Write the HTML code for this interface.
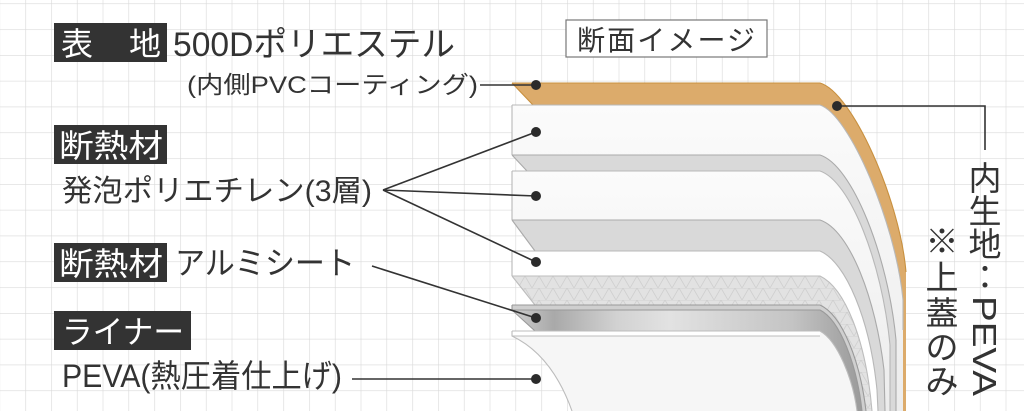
<!DOCTYPE html>
<html><head><meta charset="utf-8"><style>
html,body{margin:0;padding:0;background:#fff}
body{width:1024px;height:411px;overflow:hidden;position:relative}
svg{position:absolute;left:0;top:0}
text{font-family:"Liberation Sans","Noto Sans CJK JP",sans-serif;fill:#333}
</style></head><body>
<svg width="1024" height="411" viewBox="0 0 1024 411" xmlns="http://www.w3.org/2000/svg">
<defs>
<pattern id="grid" x="25.3" y="3.4" width="25.8" height="25.8" patternUnits="userSpaceOnUse">
<path d="M0 0 H25.8 M0 0 V25.8" stroke="#d9d9d9" stroke-width="1.2" fill="none"/>
</pattern>
<pattern id="tri" x="0" y="0" width="14" height="12" patternUnits="userSpaceOnUse">
<rect width="14" height="12" fill="#e2e2e2"/>
<path d="M0 12 L7 0 L14 12 M0 0 H14" stroke="#cfcfcf" stroke-width="0.8" fill="none"/>
</pattern>
<linearGradient id="alu" x1="0" x2="1" y1="0" y2="0">
<stop offset="0" stop-color="#cfcfcf"/><stop offset="0.12" stop-color="#a9a9a9"/><stop offset="0.3" stop-color="#d2d2d2"/><stop offset="0.45" stop-color="#e2e2e2"/><stop offset="0.8" stop-color="#c4c4c4"/><stop offset="1" stop-color="#9a9a9a"/>
</linearGradient>
<linearGradient id="wh" x1="0" y1="0" x2="0" y2="1"><stop offset="0" stop-color="#fbfbfb"/><stop offset="1" stop-color="#ececec"/></linearGradient>
</defs>
<rect width="1024" height="411" fill="url(#grid)"/>

<!-- layers (fills) -->
<g stroke="none">
<path d="M512 83 L820 83 C852 92 900 200 906 272 L906 411 L820 411 L820 105 L533 105 Z" fill="#dcab6b"/>
<path d="M512 105 L820 105 C850 115 896 225 903 300 L903 411 L820 411 L820 155 L512 155 Z" fill="url(#wh)"/>
<path d="M512 155 L820 155 C852 165 888 255 896 340 L896 411 L820 411 L820 171 L527 171 Z" fill="#d9d9d9"/>
<path d="M512 171 L820 171 C850 181 882 262 890 345 L890 411 L820 411 L820 220 L512 220 Z" fill="url(#wh)"/>
<path d="M512 220 L820 220 C850 230 876 300 884 370 L885 411 L820 411 L820 251 L535 251 Z" fill="#d9d9d9"/>
<path d="M512 251 L820 251 C846 262 870 320 877 390 L878 411 L820 411 L820 276 L512 276 Z" fill="#fff"/>
<path d="M512 276 L820 276 C845 288 866 340 872 411 L820 411 L820 305 L535 305 Z" fill="url(#tri)"/>
<path d="M512 305 L820 305 C842 315 860 360 866 411 L820 411 L820 310 L512 310 Z" fill="#cfcfcf"/>
<path d="M512 310 L820 310 C840 320 857 365 862 411 L820 411 L820 331 L535 331 Z" fill="url(#alu)"/>
<path d="M512 331 L820 331 C838 341 853 380 857 411 L572 411 Q552 355 512 336 Z" fill="#f6f6f6"/>
<path d="M512 331 L820 331 L820 336 L512 336 Z" fill="#fff"/>
</g>
<!-- layer edges -->
<g fill="none" stroke-width="1.1">
<path d="M512 83 L820 83 C852 92 900 200 906 272 M512 83 L533 105" stroke="#c8903f"/>
<path d="M512 105 L820 105 C850 115 896 225 903 300 L903 330 M512 105 V155" stroke="#b8b8b8"/>
<path d="M512 155 L820 155 C852 165 888 255 896 340 L896 411 M512 155 L527 171" stroke="#aaa"/>
<path d="M512 171 L820 171 C850 181 882 262 890 345 L890 411 M512 171 V220" stroke="#b8b8b8"/>
<path d="M512 220 L820 220 C850 230 876 300 884 370 L885 411 M512 220 L535 251" stroke="#aaa"/>
<path d="M512 251 L820 251 C846 262 870 320 877 390 L878 411 M512 251 V276" stroke="#b8b8b8"/>
<path d="M512 276 L820 276 C845 288 866 340 872 411 M512 276 L535 305" stroke="#bdbdbd"/>
<path d="M512 305 L820 305 C842 315 860 360 866 411 M512 305 V310" stroke="#999"/>
<path d="M512 310 L820 310 C840 320 857 365 862 411 M512 310 L535 331" stroke="#999"/>
<path d="M512 331 L820 331 C838 341 853 380 857 411 M512 336 L820 336 M512 331 V336 Q552 355 572 411" stroke="#bcbcbc"/>
</g>

<!-- connectors -->
<g stroke="#333" stroke-width="1.6" fill="none">
<path d="M480 85 H536"/>
<path d="M383 190 L536 132 M383 190 L536 196 M383 190 L536 262"/>
<path d="M372 266 L536 318"/>
<path d="M352 379 H536"/>
<path d="M837 106 H985 V150"/>
</g>
<g fill="#2b2b2b">
<circle cx="536" cy="85" r="5"/><circle cx="536" cy="132" r="5"/><circle cx="536" cy="196" r="5"/>
<circle cx="536" cy="262" r="5"/><circle cx="536" cy="318" r="5"/><circle cx="536" cy="379" r="5"/>
<circle cx="837" cy="106" r="5"/>
</g>

<!-- title -->
<rect x="566" y="20" width="201" height="37" fill="#fff" stroke="#777" stroke-width="1.2"/>
<text x="666" y="50" font-size="28" text-anchor="middle" textLength="178">断面イメージ</text>

<!-- left labels -->
<rect x="54" y="23" width="113" height="39" fill="#333"/>
<text x="61" y="55" font-size="32" style="fill:#fff">表</text>
<text x="129" y="55" font-size="32" style="fill:#fff">地</text>
<text x="173" y="56" font-size="34" textLength="282" lengthAdjust="spacingAndGlyphs">500Dポリエステル</text>
<text x="187" y="93" font-size="24" textLength="291" lengthAdjust="spacingAndGlyphs">(内側PVCコーティング)</text>

<rect x="54" y="125" width="113" height="39" fill="#333"/>
<text x="59" y="157" font-size="32" style="fill:#fff" textLength="104" lengthAdjust="spacingAndGlyphs">断熱材</text>
<text x="62" y="201" font-size="30" textLength="310" lengthAdjust="spacingAndGlyphs">発泡ポリエチレン(3層)</text>

<rect x="54" y="243" width="113" height="39" fill="#333"/>
<text x="59" y="275" font-size="32" style="fill:#fff" textLength="104" lengthAdjust="spacingAndGlyphs">断熱材</text>
<text x="175" y="274" font-size="32" textLength="180" lengthAdjust="spacingAndGlyphs">アルミシート</text>

<rect x="54" y="311" width="137" height="39" fill="#333"/>
<text x="62" y="343" font-size="32" style="fill:#fff" textLength="122" lengthAdjust="spacingAndGlyphs">ライナー</text>
<text x="62" y="387" font-size="32" textLength="280" lengthAdjust="spacingAndGlyphs">PEVA(熱圧着仕上げ)</text>

<!-- right vertical labels -->
<text font-size="33" text-anchor="middle">
<tspan x="985" y="190">内</tspan><tspan x="985" y="223">生</tspan><tspan x="985" y="256">地</tspan><tspan x="985" y="289">：</tspan>
</text>
<text font-size="33" transform="translate(973 296) rotate(90)"><tspan x="0" y="0" textLength="100" lengthAdjust="spacingAndGlyphs">PEVA</tspan></text>
<text font-size="33" text-anchor="middle">
<tspan x="942" y="253">※</tspan><tspan x="942" y="289">上</tspan><tspan x="942" y="325">蓋</tspan><tspan x="942" y="359">の</tspan><tspan x="942" y="393">み</tspan>
</text>
</svg>
</body></html>
